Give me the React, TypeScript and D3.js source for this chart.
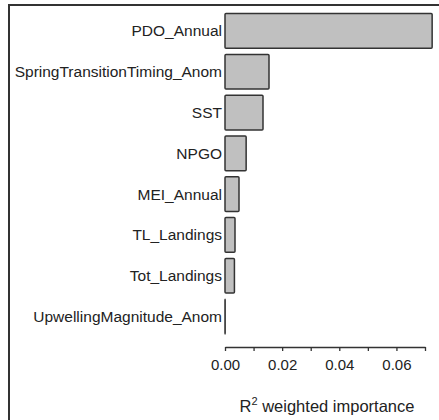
import React, { useEffect, useRef } from "react";
import * as d3 from "d3";

const categories = [
  "PDO_Annual",
  "SpringTransitionTiming_Anom",
  "SST",
  "NPGO",
  "MEI_Annual",
  "TL_Landings",
  "Tot_Landings",
  "UpwellingMagnitude_Anom",
];
const importance = [0.0725, 0.0154, 0.0133, 0.0074, 0.0049, 0.0035, 0.0033, 0.00005];
const tickValues = [0, 0.01, 0.02, 0.03, 0.04, 0.05, 0.06, 0.07];
const xTitle = "weighted importance";

const W = 439;
const H = 420;
const FONT = "'Liberation Sans', Arial, sans-serif";

export default function App() {
  const axisRef = useRef<SVGGElement>(null);
  const x = d3.scaleLinear().domain([0, 0.07]).range([225, 425]);
  const y = d3
    .scaleBand<string>()
    .domain(categories)
    .range([9.5, 338])
    .paddingInner(0.15)
    .paddingOuter(0.1);
  const axisY = 347;

  useEffect(() => {
    if (!axisRef.current) return;
    const g = d3.select(axisRef.current);
    g.selectAll("*").remove();
    g.call(
      d3
        .axisBottom(x)
        .tickValues(tickValues)
        .tickSize(4)
        .tickSizeOuter(0)
        .tickPadding(8)
        .tickFormat((d, i) => (i % 2 === 0 ? d3.format(".2f")(d as number) : ""))
    );
    g.select(".domain").attr("stroke", "#333").attr("stroke-width", 1.3);
    g.selectAll(".tick line").attr("stroke", "#333").attr("stroke-width", 1.3);
    g.selectAll(".tick text")
      .attr("fill", "#222")
      .style("font-family", FONT)
      .style("font-size", "15px");
  });

  return (
    <svg
      width={W}
      height={H}
      style={{ position: "absolute", left: 0, top: 0, background: "#fff" }}
    >
      <rect x={0} y={0} width={W} height={H} fill="#fff" />
      <rect
        x={9}
        y={5}
        width={W + 20}
        height={H + 20}
        fill="none"
        stroke="#333"
        strokeWidth={2}
      />
      {categories.map((c, i) => (
        <g key={c}>
          <rect
            x={x(0)}
            y={y(c)}
            width={x(importance[i]) - x(0)}
            height={y.bandwidth()}
            fill="#c0c0c0"
            stroke="#333"
            strokeWidth={1.5}
            rx={1}
          />
          <text
            x={x(0) - 3}
            y={(y(c) as number) + y.bandwidth() / 2}
            textAnchor="end"
            dominantBaseline="central"
            fill="#222"
            style={{ fontFamily: FONT, fontSize: 15.5 }}
          >
            {c}
          </text>
        </g>
      ))}
      <g ref={axisRef} transform={`translate(0,${axisY})`} />
      <text
        x={327}
        y={412}
        textAnchor="middle"
        fill="#222"
        style={{ fontFamily: FONT, fontSize: 16.5 }}
      >
        R
        <tspan dy={-7} style={{ fontSize: 11 }}>
          2
        </tspan>
        <tspan dy={7}> {xTitle}</tspan>
      </text>
    </svg>
  );
}
